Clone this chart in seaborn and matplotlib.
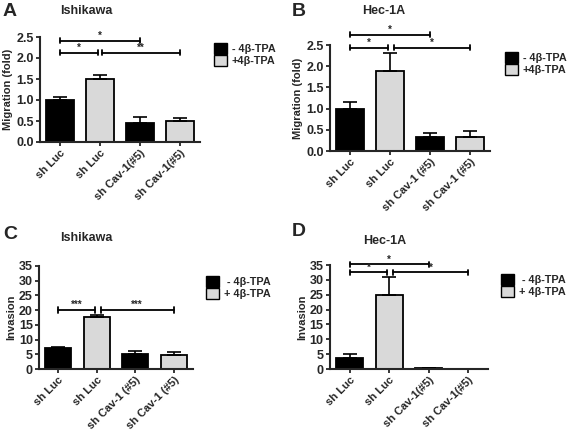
import matplotlib.pyplot as plt
import seaborn as sns
import pandas as pd
import numpy as np
from matplotlib.patches import Patch

sns.set_style('ticks')
plt.rcParams['font.family'] = ['Liberation Sans', 'DejaVu Sans']
plt.rcParams['font.weight'] = 'bold'

# Data
treatment = ['-', '+', '-', '+']
labels_a = ['sh Luc', 'sh Luc', 'sh Cav-1(#5)', 'sh Cav-1(#5)']
labels_b = ['sh Luc', 'sh Luc', 'sh Cav-1 (#5)', 'sh Cav-1 (#5)']
labels_c = ['sh Luc', 'sh Luc', 'sh Cav-1 (#5)', 'sh Cav-1 (#5)']
labels_d = ['sh Luc', 'sh Luc', 'sh Cav-1(#5)', 'sh Cav-1(#5)']

mig_ishikawa = [1.0, 1.5, 0.45, 0.5]
mig_ishikawa_err = [0.08, 0.1, 0.15, 0.08]
mig_hec = [1.0, 1.88, 0.32, 0.33]
mig_hec_err = [0.15, 0.42, 0.1, 0.15]
inv_ishikawa = [7.0, 17.7, 5.0, 4.9]
inv_ishikawa_err = [0.6, 0.5, 1.1, 0.8]
inv_hec = [3.8, 24.8, 0.2, 0.1]
inv_hec_err = [1.3, 6.0, 0.1, 0.05]

# significance brackets: (x1, x2, y, text)
sig_a = [(0, 2, 2.41, '*'), (0, 0.95, 2.12, '*'), (1.05, 3, 2.12, '**')]
sig_b = [(0, 2, 2.74, '*'), (0, 0.95, 2.44, '*'), (1.1, 3, 2.44, '*')]
sig_c = [(0, 0.95, 20, '***'), (1.1, 3, 20, '***')]
sig_d = [(0, 2, 35.2, '*'), (0, 0.95, 32.5, '*'), (1.1, 3, 32.5, '*')]

legend_ab = ['- 4β-TPA', '+4β-TPA']
legend_cd = [' - 4β-TPA', '+ 4β-TPA']

fig = plt.figure(figsize=(5.67, 4.32), dpi=100)


def panel(rect, values, errs, labels, ymax, ystep, fmt, ylabel, sigs, cap_h,
          leg_labels, leg_pos):
    ax = fig.add_axes(rect)
    df = pd.DataFrame({'group': ['0', '1', '2', '3'], 'treat': treatment,
                       'value': values})
    sns.barplot(data=df, x='group', y='value', hue='treat', dodge=False,
                palette={'-': 'black', '+': '#d9d9d9'}, edgecolor='black',
                linewidth=1.3, width=0.68, errorbar=None, legend=False, ax=ax)
    ax.errorbar(range(4), values, yerr=[np.zeros(4), errs], fmt='none',
                ecolor='black', elinewidth=1.2, capsize=5, capthick=1.2,
                zorder=1)
    ax.set_xlim(-0.5, 3.5)
    ax.set_ylim(0, ymax)
    ticks = np.arange(0, ymax + ystep / 2, ystep)
    ax.set_yticks(ticks)
    ax.set_yticklabels([fmt % v for v in ticks], fontsize=9, fontweight='bold')
    ax.set_xticks(range(4))
    ax.set_xticklabels(labels, rotation=45, ha='right', rotation_mode='anchor',
                       fontsize=8, fontweight='bold')
    ax.set_xlabel('')
    ax.set_ylabel(ylabel, fontsize=8, fontweight='bold', labelpad=2)
    for s in ['top', 'right']:
        ax.spines[s].set_visible(False)
    for s in ['left', 'bottom']:
        ax.spines[s].set_linewidth(1.5)
    ax.tick_params(width=1.3, length=3, pad=1.5)

    # significance brackets
    for x1, x2, y, t in sigs:
        ax.plot([x1, x2], [y, y], color='black', lw=1.3, clip_on=False)
        ax.plot([x1, x1], [y - cap_h, y + cap_h], color='black', lw=1.3,
                clip_on=False)
        ax.plot([x2, x2], [y - cap_h, y + cap_h], color='black', lw=1.3,
                clip_on=False)
        ax.text((x1 + x2) / 2, y, t, ha='center', va='bottom', fontsize=7)

    handles = [Patch(facecolor='black', edgecolor='black', lw=1),
               Patch(facecolor='#d9d9d9', edgecolor='black', lw=1)]
    ax.legend(handles, leg_labels, loc='upper left', bbox_to_anchor=leg_pos,
              bbox_transform=fig.transFigure, frameon=False,
              handlelength=1.2, handleheight=1.1, handletextpad=0.4,
              borderpad=0, labelspacing=0.1, prop={'weight': 'bold', 'size': 7.8})
    return ax


W, H = 567, 432


def rect(l, r, b, t):
    return [l / W, 1 - b / H, (r - l) / W, (b - t) / H]


def fpos(x, y):
    return (x / W, 1 - y / H)


panel(rect(40, 200, 142, 37), mig_ishikawa, mig_ishikawa_err, labels_a, 2.5,
      0.5, '%.1f', 'Migration (fold)', sig_a, 0.06, legend_ab, fpos(209, 38))
panel(rect(330, 490, 151, 45), mig_hec, mig_hec_err, labels_b, 2.5,
      0.5, '%.1f', 'Migration (fold)', sig_b, 0.06, legend_ab, fpos(500, 47))
panel(rect(39, 193, 369, 266), inv_ishikawa, inv_ishikawa_err, labels_c, 35,
      5, '%d', 'Invasion', sig_c, 0.9, legend_cd, fpos(201, 271))
panel(rect(330, 488, 369, 265), inv_hec, inv_hec_err, labels_d, 35,
      5, '%d', 'Invasion', sig_d, 0.9, legend_cd, fpos(496, 269))

# panel letters and titles
for letter, x, y in [('A', 3, 3), ('B', 292, 3), ('C', 3, 226), ('D', 292, 223)]:
    fig.text(x / W, 1 - y / H, letter, fontsize=14, fontweight='bold',
             va='top', ha='left')
for title, x, y in [('Ishikawa', 60, 5), ('Hec-1A', 362, 5),
                    ('Ishikawa', 60, 232), ('Hec-1A', 363, 235)]:
    fig.text(x / W, 1 - y / H, title, fontsize=9, fontweight='bold',
             va='top', ha='left')

plt.savefig('out.png', dpi=100)
